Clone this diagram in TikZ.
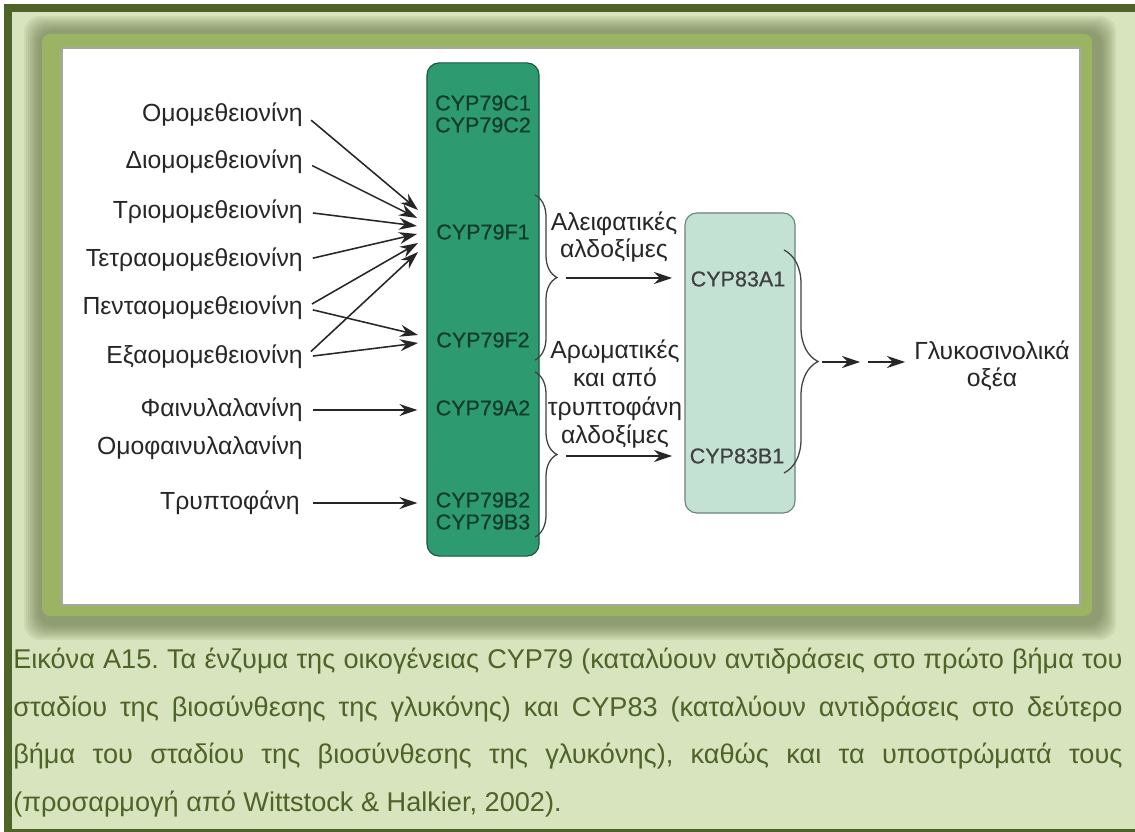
\documentclass[tikz,border=0pt]{standalone}
\usepackage{fontspec}
\setmainfont{Liberation Sans}
\usepackage{xcolor}
\definecolor{olivedark}{HTML}{4F6228}
\definecolor{olivepale}{HTML}{D7E4BD}
\definecolor{olivemid}{HTML}{9BB463}
\definecolor{cypdark}{HTML}{2E9A70}
\definecolor{cyppale}{HTML}{C3E2D4}
\definecolor{cypink}{HTML}{0F3B2A}
\tikzset{
  every node/.style={
    text=black!85
  }
}
\usetikzlibrary{arrows.meta}
\usetikzlibrary{decorations.pathreplacing}
\frenchspacing

\begin{document}
\begin{tikzpicture}[x=0.025cm, y=-0.025cm,
    lbl/.style={font=\fontsize{17.6}{19.5}\selectfont, align=center},
    substr/.style={lbl, anchor=east, inner sep=0.5mm},
    enz/.style={font=\fontsize{15.3}{15.6}\selectfont\addfontfeature{FakeBold=0.6}, text=cypink, align=center, inner sep=0.5mm},
    feed/.style={draw=black!85, line width=1.1pt, -{Stealth[length=4.5mm, width=3mm]}},
    curly/.style={draw=black!75, line width=0.9pt, decorate, decoration={brace, amplitude=#1}},
    capline/.style={anchor=base west, inner sep=0, text=olivedark, font=\fontsize{19.3}{21}\selectfont}
  ]
    %\draw[gray, very thin] (0,0) grid[step=50] (1135,832);
    \useasboundingbox (0,0) rectangle (1135,832);
    \fill[white] (0,0) rectangle (1135,832);
    \fill[olivedark] (4,4) rectangle (1135,832);
    \fill[olivepale] (12,12) rectangle (1135,829);

    % soft frame round the figure
    \foreach \d in {14,12,...,0}
      \fill[olivemid!55!black, opacity=0.09, rounded corners=4mm] ({38-\d},{30-\d}) rectangle ({1102+\d},{626+\d});
    \fill[olivemid, rounded corners=2mm] (42,34) rectangle (1092,616);
    \fill[white, draw=gray!70, line width=0.8pt] (62,48) rectangle (1080,605);

    % substrates
    \node[substr] (homomet) at (305,115) {Ομομεθειονίνη};
    \node[substr] (dihomo) at (305,162) {Διομομεθειονίνη};
    \node[substr] (trihomo) at (305,212) {Τριομομεθειονίνη};
    \node[substr] (tetrahomo) at (305,260) {Τετραομομεθειονίνη};
    \node[substr] (pentahomo) at (305,308) {Πενταομομεθειονίνη};
    \node[substr] (hexahomo) at (305,357) {Εξαομομεθειονίνη};
    \node[substr] (phe) at (305,410) {Φαινυλαλανίνη};
    \node[substr] (homophe) at (305,448) {Ομοφαινυλαλανίνη};
    \node[substr] (trp) at (302,503) {Τρυπτοφάνη};

    % CYP79 block
    \node[draw=cypdark!55!black, fill=cypdark, rounded corners=3mm, line width=0.8pt,
          minimum width=28mm, minimum height=123.25mm] (box79) at (483,309.5) {};
    \node[enz] (c79c) at (483,114) {CYP79C1\\CYP79C2};
    \node[enz] (c79f1) at (483,232) {CYP79F1};
    \node[enz] (c79f2) at (483,340) {CYP79F2};
    \node[enz] (c79a2) at (483,408) {CYP79A2};
    \node[enz] (c79b) at (483,511) {CYP79B2\\CYP79B3};

    % CYP83 block
    \node[draw=gray!70!cypdark, fill=cyppale, rounded corners=3mm, line width=0.8pt,
          minimum width=27.5mm, minimum height=75mm] (box83) at (740,363) {};
    \node[enz, text=black!75] (c83a1) at (738,279) {CYP83A1};
    \node[enz, text=black!75] (c83b1) at (737,456) {CYP83B1};

    % arrow tips at the CYP79 block
    \coordinate (f1a) at (418,210);
    \coordinate (f1b) at (417,218);
    \coordinate (f1c) at (417,226);
    \coordinate (f1d) at (417,234);
    \coordinate (f1e) at (418,243);
    \coordinate (f1f) at (418,252);
    \coordinate (f2a) at (418,335);
    \coordinate (f2b) at (418,343);

    \draw[feed, shorten <=2mm] (homomet.east) -- (f1a);
    \draw[feed, shorten <=2mm] (dihomo.east) -- (f1b);
    \draw[feed, shorten <=2mm] (trihomo.east) -- (f1c);
    \draw[feed, shorten <=2mm] (tetrahomo.east) -- (f1d);
    \draw[feed, shorten <=2mm] (pentahomo.east) -- (f1e);
    \draw[feed, shorten <=2mm] (pentahomo.east) -- (f2a);
    \draw[feed, shorten <=2mm] (hexahomo.east) -- (f1f);
    \draw[feed, shorten <=2mm] (hexahomo.east) -- (f2b);
    \draw[feed, shorten <=2mm, shorten >=2.25mm] (phe.east) -- (box79.west |- phe.east);
    \draw[feed, shorten <=2.75mm, shorten >=2.25mm] (trp.east) -- (box79.west |- trp.east);

    % aldoximes
    \coordinate (alitop) at (535,195);
    \coordinate (alibot) at (535,360);
    \coordinate (arotop) at (535,372);
    \coordinate (arobot) at (535,537);
    \draw[curly=5.5mm] (alitop) -- (alibot);
    \draw[curly=5.5mm] (arotop) -- (arobot);
    \node[lbl] (alitxt) at (614,237) {Αλειφατικές\\αλδοξίμες};
    \node[lbl, font=\fontsize{17.6}{20}\selectfont] (arotxt) at (615,394) {Αρωματικές\\και από\\τρυπτοφάνη\\αλδοξίμες};
    \coordinate (alistart) at (566,278);
    \coordinate (aliend) at (672,278);
    \coordinate (arostart) at (566,456);
    \coordinate (aroend) at (672,456);
    \draw[feed] (alistart) -- (aliend);
    \draw[feed] (arostart) -- (aroend);

    % glucosinolates
    \coordinate (gltop) at (784,250);
    \coordinate (glbot) at (784,473);
    \draw[curly=8.5mm] (gltop) -- (glbot);
    \coordinate (glstart) at (822,362);
    \coordinate (glmid) at (860,362);
    \coordinate (glrest) at (868,362);
    \coordinate (glend) at (905,362);
    \draw[feed] (glstart) -- (glmid);
    \draw[feed] (glrest) -- (glend);
    \node[lbl] (glstxt) at (992,366) {Γλυκοσινολικά\\οξέα};

    % caption
    \node[capline] (cap1) at (13,668) {\makebox[27.725cm][s]{Εικόνα Α15. Τα ένζυμα της οικογένειας CYP79 (καταλύουν αντιδράσεις στο πρώτο βήμα του}};
    \node[capline] (cap2) at (13,716) {\makebox[27.725cm][s]{σταδίου της βιοσύνθεσης της γλυκόνης) και CYP83 (καταλύουν αντιδράσεις στο δεύτερο}};
    \node[capline] (cap3) at (13,763) {\makebox[27.725cm][s]{βήμα του σταδίου της βιοσύνθεσης της γλυκόνης), καθώς και τα υποστρώματά τους}};
    \node[capline] (cap4) at (13,811) {(προσαρμογή από Wittstock \& Halkier, 2002).};
\end{tikzpicture}
\end{document}
